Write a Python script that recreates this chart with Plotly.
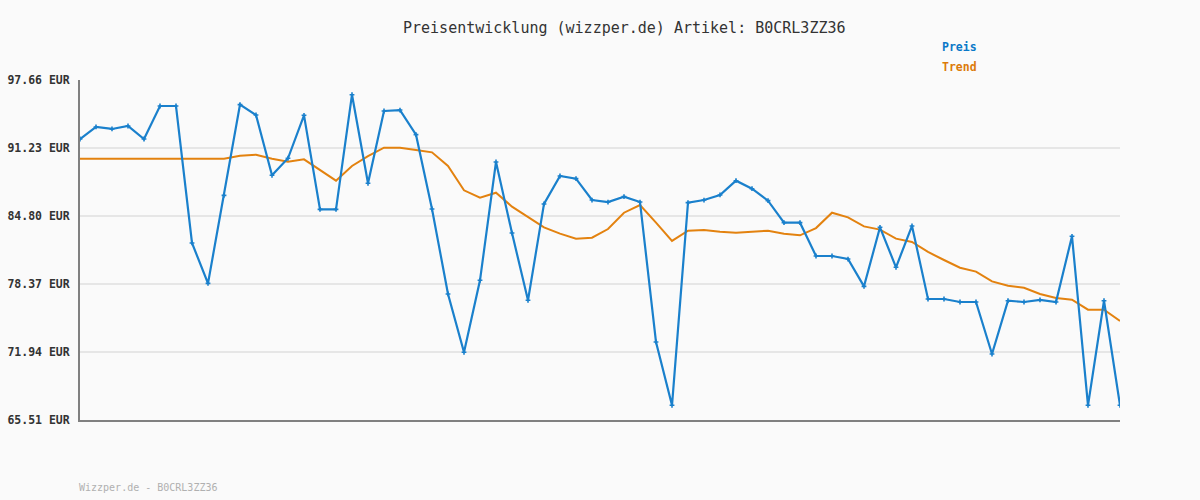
import plotly.graph_objects as go

preis = [92.08, 93.22, 93.03, 93.31, 92.08, 95.20, 95.20, 82.25, 78.43, 86.75,
         95.33, 94.35, 88.65, 90.26, 94.32, 85.43, 85.43, 96.27, 87.89, 94.73,
         94.82, 92.49, 85.46, 77.43, 71.91, 78.72, 89.91, 83.19, 76.83, 85.94,
         88.58, 88.33, 86.31, 86.12, 86.63, 86.12, 72.89, 66.90, 86.06, 86.31,
         86.79, 88.14, 87.38, 86.25, 84.17, 84.17, 81.02, 81.02, 80.73, 78.15,
         83.73, 79.95, 83.86, 76.95, 76.95, 76.67, 76.67, 71.75, 76.79, 76.67,
         76.86, 76.67, 82.88, 66.90, 76.79, 66.90]

trend = [90.22, 90.22, 90.22, 90.22, 90.22, 90.22, 90.22, 90.22, 90.22, 90.22,
         90.50, 90.60, 90.22, 89.94, 90.16, 89.15, 88.14, 89.53, 90.47, 91.26,
         91.26, 91.04, 90.82, 89.53, 87.23, 86.53, 87.00, 85.68, 84.71, 83.73,
         83.13, 82.66, 82.75, 83.57, 85.11, 85.84, 84.17, 82.44, 83.41, 83.48,
         83.32, 83.22, 83.32, 83.41, 83.13, 82.97, 83.66, 85.11, 84.67, 83.82,
         83.51, 82.66, 82.34, 81.40, 80.64, 79.91, 79.54, 78.62, 78.21, 78.02,
         77.43, 77.05, 76.89, 75.94, 75.94, 74.87]

tick_vals = [65.51, 71.94, 78.37, 84.80, 91.23, 97.66]
tick_text = ["65.51 EUR", "71.94 EUR", "78.37 EUR", "84.80 EUR", "91.23 EUR", "97.66 EUR"]

x = list(range(len(preis)))

BLUE = "#1a80cc"
ORANGE = "#e3820f"
MONO = "DejaVu Sans Mono"

fig = go.Figure()
fig.add_trace(go.Scatter(x=x, y=trend, mode="lines", name="Trend",
                         line=dict(color=ORANGE, width=2)))
fig.add_trace(go.Scatter(x=x, y=preis, mode="lines+markers", name="Preis",
                         line=dict(color=BLUE, width=2.2),
                         marker=dict(symbol="cross", size=4, color=BLUE)))

fig.update_layout(
    width=1200, height=500,
    margin=dict(l=80, r=80, t=80, b=80),
    paper_bgcolor="#fafafa", plot_bgcolor="#fafafa",
    showlegend=False,
    xaxis=dict(range=[0, len(preis) - 1], showgrid=False, showticklabels=False,
               zeroline=False, showline=True, linecolor="#808080", linewidth=2,
               ticks="", automargin=False),
    yaxis=dict(range=[tick_vals[0], tick_vals[-1]], tickvals=tick_vals,
               ticktext=tick_text, showgrid=True, gridcolor="#e6e6e6",
               gridwidth=2, zeroline=False, showline=True, linecolor="#808080",
               linewidth=2, ticks="", ticklabelstandoff=6, automargin=False,
               tickfont=dict(family=MONO, size=11.5, color="#333333", weight="bold")),
    annotations=[
        dict(text="Preisentwicklung (wizzper.de) Artikel: B0CRL3ZZ36",
             xref="paper", yref="paper", x=(624 - 80) / 1040, y=(420 - 28) / 340,
             xanchor="center", yanchor="middle", showarrow=False,
             font=dict(family=MONO, size=15, color="#333333")),
        dict(text="<b>Preis</b>", xref="paper", yref="paper",
             x=(940 - 80) / 1040, y=(420 - 47) / 340, xanchor="left", yanchor="middle",
             showarrow=False, font=dict(family=MONO, size=11.5, color="#0a78c8")),
        dict(text="<b>Trend</b>", xref="paper", yref="paper",
             x=(940 - 80) / 1040, y=(420 - 67) / 340, xanchor="left", yanchor="middle",
             showarrow=False, font=dict(family=MONO, size=11.5, color="#dc7a0a")),
        dict(text="Wizzper.de - B0CRL3ZZ36", xref="paper", yref="paper",
             x=0, y=(420 - 487) / 340, xanchor="left", yanchor="middle", xshift=-3,
             showarrow=False, font=dict(family=MONO, size=10, color="#b0b0b0")),
    ],
)

fig.write_html("out.html")
